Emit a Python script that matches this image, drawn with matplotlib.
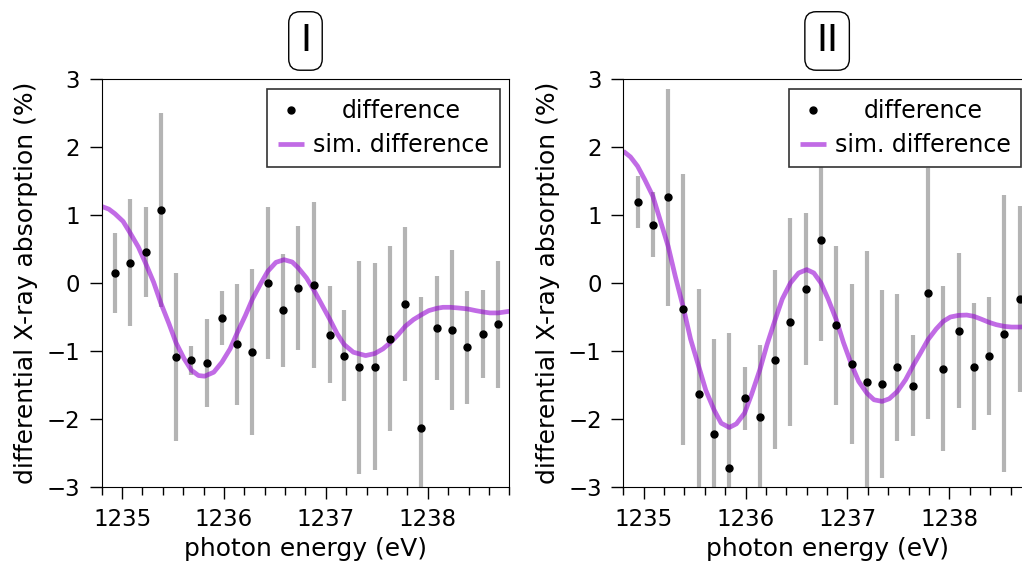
import numpy as np
import matplotlib.pyplot as plt
from matplotlib.ticker import MultipleLocator

# panel I : measured difference
x_I = [1234.93, 1235.08, 1235.23, 1235.38, 1235.53, 1235.68, 1235.83, 1235.98, 1236.13,
       1236.28, 1236.43, 1236.58, 1236.73, 1236.88, 1237.04, 1237.18, 1237.33, 1237.48,
       1237.63, 1237.78, 1237.93, 1238.09, 1238.24, 1238.39, 1238.54, 1238.69]
y_I = [0.15, 0.30, 0.46, 1.07, -1.09, -1.14, -1.18, -0.52, -0.90, -1.02, 0.0, -0.40, -0.07,
       -0.03, -0.76, -1.07, -1.24, -1.23, -0.82, -0.31, -2.13, -0.66, -0.69, -0.95, -0.75, -0.61]
err_I = [0.59, 0.94, 0.66, 1.43, 1.24, 0.21, 0.65, 0.40, 0.89, 1.22, 1.12, 0.83, 0.91,
         1.22, 0.72, 0.67, 1.57, 1.52, 1.36, 1.14, 1.93, 0.77, 1.18, 0.83, 0.65, 0.94]

# panel I : simulated difference
sx_I = [1234.80, 1234.87, 1234.93, 1235.01, 1235.08, 1235.16, 1235.23, 1235.31, 1235.38,
        1235.46, 1235.53, 1235.61, 1235.68, 1235.75, 1235.81, 1235.90, 1235.98, 1236.06,
        1236.13, 1236.21, 1236.28, 1236.36, 1236.43, 1236.51, 1236.59, 1236.67, 1236.73,
        1236.81, 1236.88, 1236.96, 1237.04, 1237.11, 1237.18, 1237.27, 1237.39, 1237.48,
        1237.56, 1237.63, 1237.71, 1237.78, 1237.86, 1237.94, 1238.01, 1238.09, 1238.15,
        1238.22, 1238.30, 1238.39, 1238.47, 1238.54, 1238.61, 1238.69, 1238.80]
sy_I = [1.127, 1.088, 1.020, 0.907, 0.735, 0.529, 0.294, 0.010, -0.294, -0.598, -0.882,
        -1.118, -1.284, -1.363, -1.373, -1.314, -1.167, -0.971, -0.735, -0.480, -0.235,
        -0.010, 0.172, 0.304, 0.343, 0.309, 0.221, 0.074, -0.098, -0.319, -0.539, -0.745,
        -0.907, -1.020, -1.069, -1.039, -0.971, -0.882, -0.760, -0.637, -0.539, -0.466,
        -0.407, -0.373, -0.358, -0.358, -0.368, -0.382, -0.407, -0.426, -0.441, -0.441, -0.417]

# panel II : measured difference
x_II = [1234.94, 1235.09, 1235.24, 1235.39, 1235.54, 1235.69, 1235.84, 1235.99, 1236.14,
        1236.29, 1236.44, 1236.59, 1236.74, 1236.89, 1237.04, 1237.19, 1237.34, 1237.49,
        1237.64, 1237.79, 1237.94, 1238.09, 1238.24, 1238.39, 1238.54, 1238.69]
y_II = [1.19, 0.86, 1.26, -0.39, -1.64, -2.22, -2.73, -1.70, -1.98, -1.13, -0.58, -0.09,
        0.64, -0.62, -1.19, -1.46, -1.49, -1.24, -1.51, -0.15, -1.26, -0.70, -1.23, -1.07,
        -0.75, -0.23]
err_II = [0.38, 0.48, 1.60, 2.00, 1.55, 1.39, 2.00, 0.46, 1.06, 1.32, 1.53, 1.12, 1.49,
          1.17, 1.18, 1.93, 1.38, 1.08, 0.74, 1.85, 1.21, 1.14, 0.94, 0.87, 2.04, 1.37]

# panel II : simulated difference
sx_II = [1234.80, 1234.87, 1234.94, 1235.01, 1235.09, 1235.16, 1235.24, 1235.31, 1235.39,
         1235.46, 1235.54, 1235.61, 1235.69, 1235.76, 1235.84, 1235.91, 1235.99, 1236.06,
         1236.14, 1236.21, 1236.29, 1236.36, 1236.44, 1236.52, 1236.60, 1236.67, 1236.74,
         1236.81, 1236.89, 1236.96, 1237.04, 1237.11, 1237.19, 1237.26, 1237.34, 1237.41,
         1237.49, 1237.57, 1237.64, 1237.72, 1237.79, 1237.87, 1237.94, 1238.01, 1238.09,
         1238.17, 1238.24, 1238.31, 1238.39, 1238.46, 1238.54, 1238.61, 1238.69, 1238.80]
sy_II = [1.941, 1.857, 1.720, 1.523, 1.278, 0.934, 0.541, 0.098, -0.369, -0.826, -1.229,
         -1.582, -1.867, -2.064, -2.128, -2.074, -1.916, -1.636, -1.278, -0.909, -0.541,
         -0.236, 0.0, 0.147, 0.197, 0.147, 0.0, -0.236, -0.541, -0.875, -1.204, -1.450,
         -1.622, -1.720, -1.744, -1.705, -1.597, -1.425, -1.229, -1.022, -0.835, -0.678,
         -0.565, -0.501, -0.477, -0.472, -0.491, -0.531, -0.580, -0.614, -0.639, -0.649,
         -0.649, -0.640]

panels = ['I', 'II']

plt.rcParams['font.family'] = ['DejaVu Sans']
plt.rcParams['font.size'] = 16

fig = plt.figure(figsize=(10.22, 5.65), dpi=100)
ax1 = fig.add_axes([0.0995, 0.1386, 0.3988, 0.7211])
ax2 = fig.add_axes([0.6099, 0.1386, 0.3988, 0.7211])

legends = []
for ax, x, y, e, sx, sy, name in [(ax1, x_I, y_I, err_I, sx_I, sy_I, panels[0]),
                                  (ax2, x_II, y_II, err_II, sx_II, sy_II, panels[1])]:
    ax.errorbar(x, y, yerr=e, fmt='none', ecolor='#b4b4b4', elinewidth=3, capsize=0, zorder=1)
    ax.plot(sx, sy, color='#9400d3', alpha=0.58, lw=3.4, zorder=2, label='sim. difference',
            solid_capstyle='butt')
    ax.plot(x, y, 'o', color='black', ms=5, zorder=3, label='difference')
    ax.set_xlim(1234.8, 1238.8)
    ax.set_ylim(-3, 3)
    ax.xaxis.set_major_locator(MultipleLocator(1))
    ax.xaxis.set_minor_locator(MultipleLocator(0.2))
    ax.yaxis.set_major_locator(MultipleLocator(1))
    ax.tick_params(which='major', length=8.5, width=1, labelsize=16.5, pad=7)
    ax.tick_params(which='minor', length=5.5, width=1)
    ax.set_xlabel('photon energy (eV)', fontsize=18, labelpad=4.5)
    ax.set_ylabel('differential X-ray absorption (%)', fontsize=18, labelpad=6)
    ax.text(0.5, 1.094, name, transform=ax.transAxes, ha='center', va='center', fontsize=27,
            bbox=dict(boxstyle='round,pad=0.3', fc='white', ec='black', lw=1))
    h, l = ax.get_legend_handles_labels()
    leg = ax.legend(h[::-1], l[::-1], loc='upper right', fontsize=17, handlelength=1.1,
                    handletextpad=0.4, borderpad=0.45, labelspacing=0.4, borderaxespad=0.4,
                    fancybox=False, framealpha=1, edgecolor='#333333')
    leg.get_frame().set_linewidth(1.2)
    leg.set_zorder(5)
    legends.append(leg)

# centre the shorter legend label like in the original
fig.canvas.draw()
for leg in legends:
    texts = leg.get_texts()
    widths = [t.get_window_extent().width for t in texts]
    wmax = max(widths)
    for t, w in zip(texts, widths):
        t.set_position(((wmax - w) / 2, 0))

fig.savefig('out.png', dpi=100)
